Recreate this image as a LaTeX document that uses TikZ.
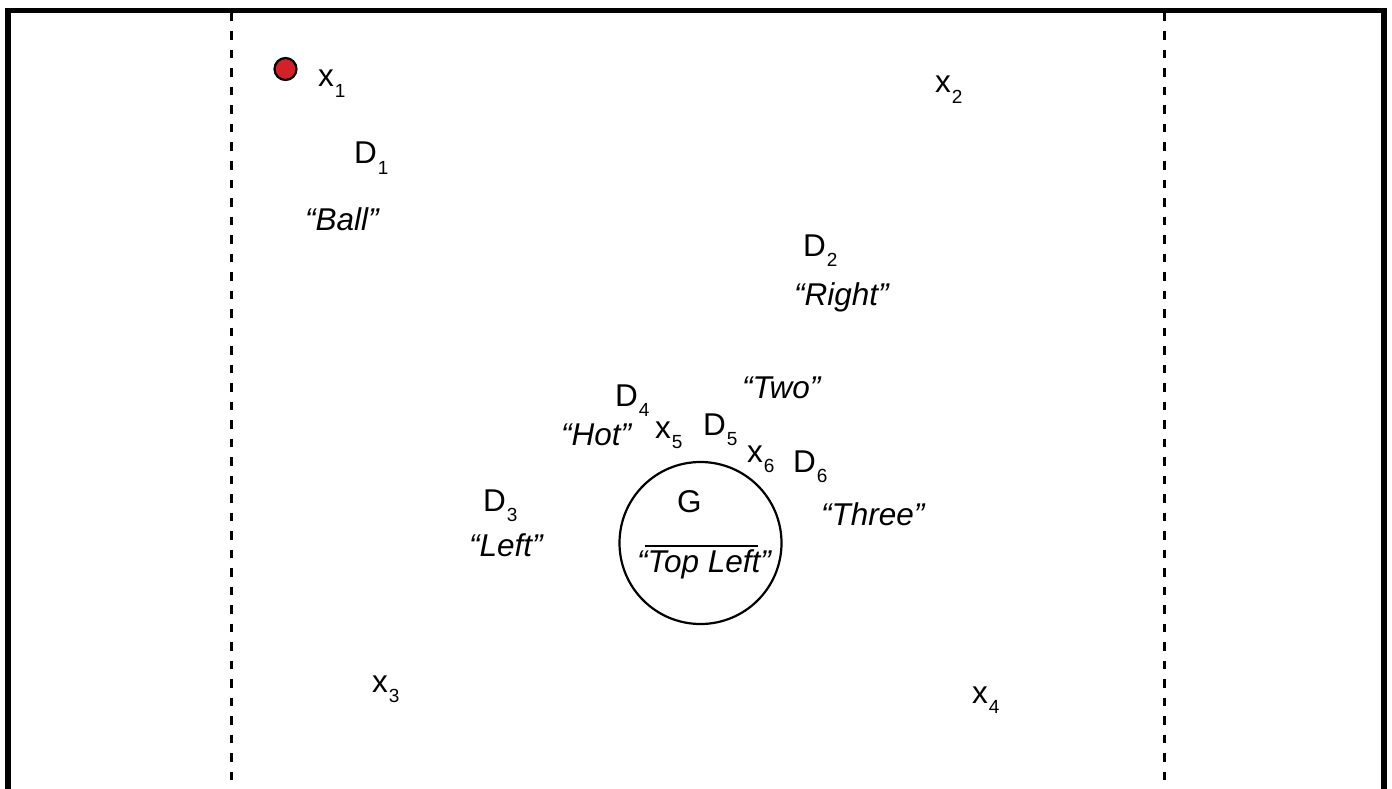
\documentclass[tikz,border=0pt]{standalone}
\usepackage{fontspec}
\setmainfont{Liberation Sans}
\newcommand\mysub[1]{\kern1pt\raisebox{-10.5pt}{\fontsize{19}{19}\selectfont #1}}
\definecolor{dotred}{HTML}{D42027}
\begin{document}
\begin{tikzpicture}[x=1pt,y=-1pt,
  lbl/.style={inner sep=0pt, anchor=base west, font=\fontsize{31.5}{31.5}\selectfont},
  itl/.style={inner sep=0pt, anchor=base west, font=\fontsize{31.5}{31.5}\selectfont\itshape},
  divider/.style={line width=3pt, dash pattern=on 8.5pt off 10pt}]
\useasboundingbox (0,0) rectangle (1392,789);
% frame
\draw[line width=5.5pt] (8,789) -- (8,10.5) -- (1384,10.5) -- (1384,789);
\draw[divider] (231,13) -- (231,789);
\draw[divider] (1164,13) -- (1164,789);
% red dot
\node[circle, fill=dotred, draw, line width=2.2pt, minimum size=22pt, inner sep=0pt] (dot) at (285.5,69) {};
% points
\node[lbl] (x1) at (318,87) {x\mysub{1}};
\node[lbl] (x2) at (935,93) {x\mysub{2}};
\node[lbl] (x3) at (372,692) {x\mysub{3}};
\node[lbl] (x4) at (972,703) {x\mysub{4}};
\node[lbl] (x5) at (655,438) {x\mysub{5}};
\node[lbl] (x6) at (747,462) {x\mysub{6}};
% D labels
\node[lbl] (d1) at (354,164) {D\mysub{1}};
\node[lbl] (d2) at (803,256) {D\mysub{2}};
\node[lbl] (d3) at (483,511) {D\mysub{3}};
\node[lbl] (d4) at (615,406) {D\mysub{4}};
\node[lbl] (d5) at (703,435) {D\mysub{5}};
\node[lbl] (d6) at (793,472) {D\mysub{6}};
% words
\node[itl] (ball) at (305,230) {“Ball”};
\node[itl] (right) at (794,305) {“Right”};
\node[itl] (two) at (742,398) {“Two”};
\node[itl] (hot) at (561,445) {“Hot”};
\node[itl] (left) at (469,556) {“Left”};
\node[itl] (three) at (821,525) {“Three”};
% goal circle
\node[circle, draw, line width=2.2pt, minimum size=162pt, inner sep=0pt] (goal) at (700.5,543) {};
\node[lbl] (g) at (677,512) {G};
\coordinate (barl) at (645,546);
\coordinate (barr) at (758,546);
\draw[line width=2pt] (barl) -- (barr);
\node[itl] (topleft) at (637,572) {“Top Left”};
\end{tikzpicture}
\end{document}
